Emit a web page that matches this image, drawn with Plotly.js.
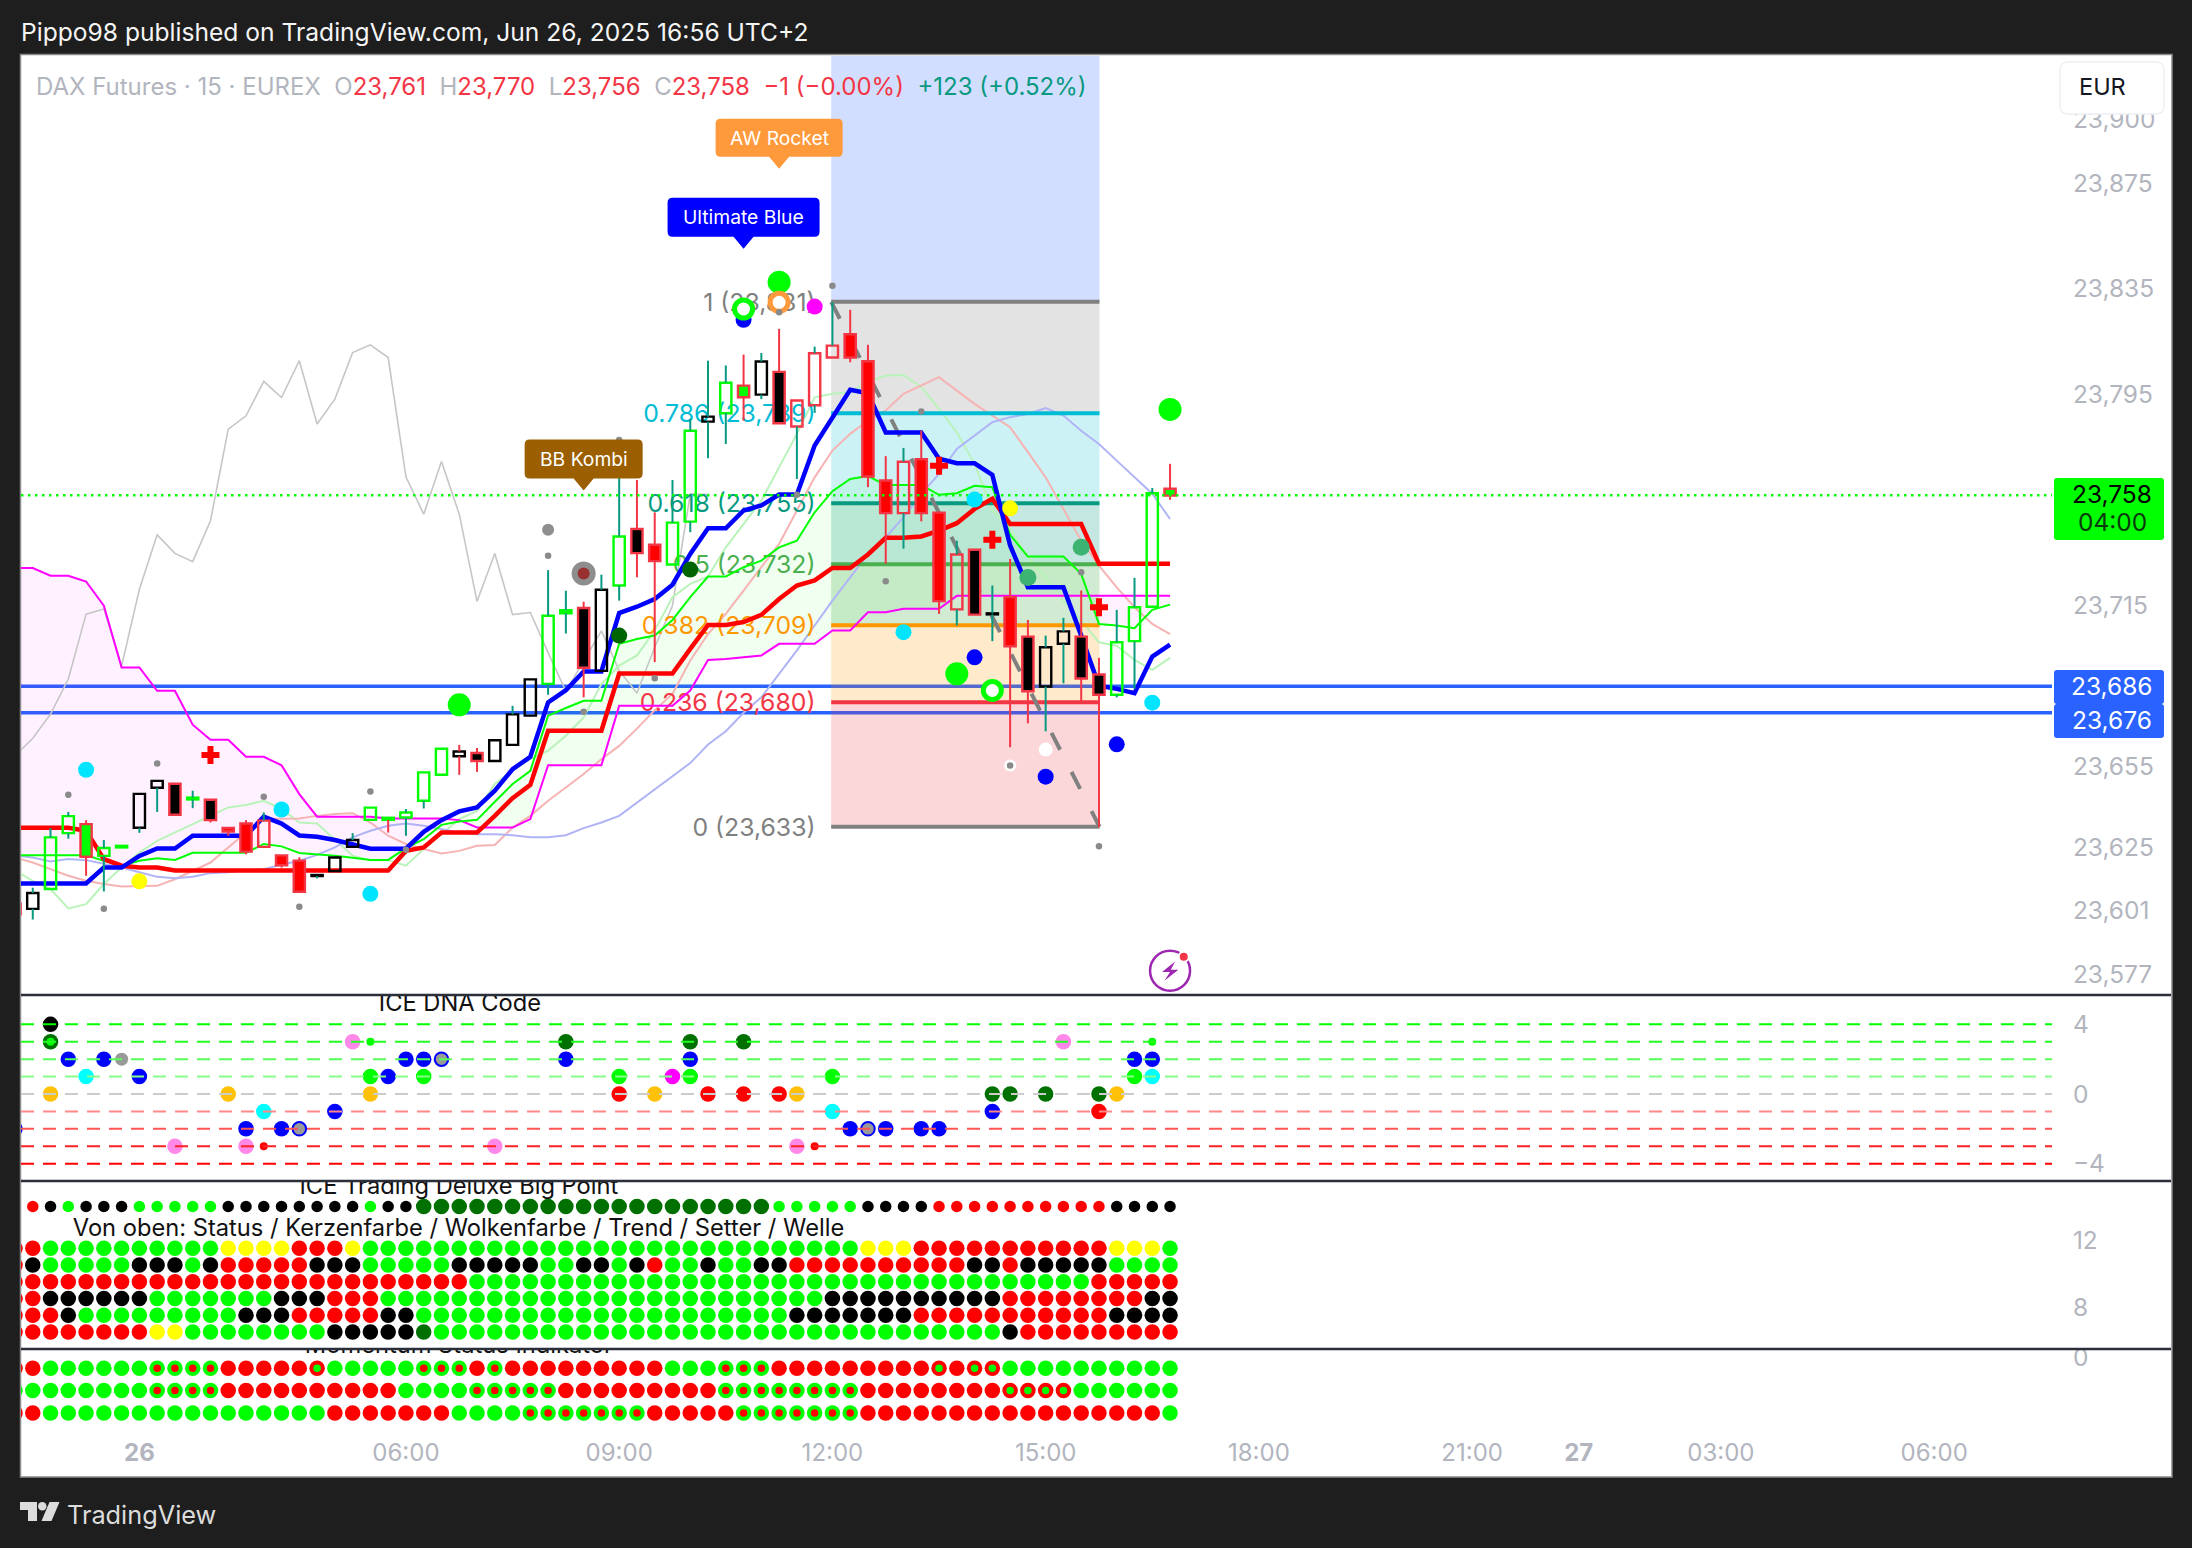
<!DOCTYPE html>
<html><head><meta charset="utf-8">
<script src="https://cdn.plot.ly/plotly-3.0.1.min.js"></script>
<style>html,body{margin:0;padding:0;background:#1e1e1e}#c{width:2192px;height:1548px}</style>
</head><body><div id="c"></div>
<script>
// ---------- candles ----------
const bodyTop=[23604,23608,23629,23637,23634,23625,23625.8,23645.4,23650.3,23649.2,
23644,23643.2,23632.5,23634.2,23635.3,23622.2,23620.2,23614.8,23621.4,23628,
23640.2,23636.4,23638.4,23653.5,23662.4,23661.4,23660.8,23665.6,23675.4,23688.6,
23712.6,23714.7,23715.5,23722.4,23742.5,23745.3,23739.4,23747.7,23782.4,23787.7,
23800.5,23799.4,23808.5,23804.6,23793.8,23811.6,23814.5,23818.8,23808.6,23763.6,
23770.7,23771.6,23751.5,23735.7,23737.5,23713.5,23719.6,23704.7,23700.7,23706.7,
23704.7,23690.4,23702.6,23715.8,23758.8,23760.5];
const bodyBot=[23600,23602,23609.5,23630.6,23621.7,23622,23625.2,23632.6,23647.7,23637.5,
23643.3,23635.5,23631.2,23623.6,23625.4,23618.5,23608.5,23614.4,23616.3,23625.4,
23635.6,23635.6,23636.5,23642.8,23652.6,23659.6,23657.8,23657.8,23663.9,23674.9,
23686.9,23713.5,23693,23691.8,23724,23736.2,23733.2,23731.9,23748.1,23785.8,
23789,23795,23796,23785.2,23784,23792,23810,23810,23765.1,23751.3,
23751.3,23751.3,23718.1,23715,23713,23713.1,23701.1,23684.1,23685.9,23702,
23688.9,23682.8,23682.8,23703,23716,23757.9];
const highs=[23606,23610,23632.5,23638.6,23635.5,23628,23625.8,23645.4,23650.3,23649.2,
23646.6,23643.2,23632.5,23635.5,23638.4,23622.2,23621.5,23614.8,23621.4,23630.6,
23640.2,23636.4,23639.7,23653.5,23662.4,23663.9,23662.7,23665.6,23678.6,23688.6,
23729.8,23722,23717.9,23728.1,23770,23763.8,23751.6,23763.8,23786.8,23808.8,
23807,23811.1,23811.7,23820.8,23793.8,23814.1,23830.8,23828,23814.8,23772.8,
23775.9,23782.4,23751.5,23740.9,23737.5,23724,23734,23711,23705.1,23711.8,
23722.1,23696.7,23714.8,23726.9,23760.8,23769.9];
const lows=[23598,23598,23609.5,23628.5,23614.5,23608.6,23625.2,23630.7,23638.6,23637.5,
23640,23634.6,23629.6,23622.6,23625.4,23617.6,23608.5,23613.5,23616.3,23625.4,
23635.6,23630.8,23629.6,23639.9,23652.6,23652.6,23653.7,23657.8,23663.9,23674.9,
23682.8,23705.9,23681.8,23691.8,23718.3,23727.1,23695.1,23731.9,23744.1,23772,
23777.4,23786.2,23794.3,23785.2,23764.2,23789.1,23810,23808.2,23761.1,23732.2,
23737.9,23748.2,23713.3,23708.9,23713,23703,23663,23672,23669,23687.1,
23679.3,23632.8,23681.8,23685,23716,23756.3];
const bodyFillCodes="rhhhghghhk"+"gkrrhrrkhh"+"hghhhhkhhh"+"hgkhhkrhhh"+"hghkhhhrrr"+"hrrhkkrkhh"+"kkhhhg";
const bodyEdgeCodes="rkggrggkkr"+"grrrrrrkkk"+"gggggkrkkk"+"ggrkgrrggk"+"grkrrrrrrr"+"rrrrrkrrkk"+"rrgggr";
const wickCodes="rtttrttttr"+"trrrtrrttt"+"trtttrrttt"+"ttrttrrttt"+"trtrtttrrr"+"trrtrtrrtt"+"rrtttr";

// ---------- indicator lines ----------
const blueThick=[23611.6,23611.6,23611.6,23611.6,23611.6,23617.6,23617.6,23622,23624.8,23624.8,
23629.6,23629.6,23629.6,23629.6,23636.8,23634.2,23629.7,23629.2,23628,23626.5,
23624.7,23624.7,23624.7,23631.1,23635.5,23638.8,23640.3,23646.6,23654.7,23659.4,
23679.9,23684.5,23691.6,23691.6,23713.6,23716,23718.9,23724.3,23735.9,23745.6,
23745.6,23752.3,23754.2,23758.3,23758.3,23776.8,23787.5,23797.8,23796.5,23781.7,
23781.7,23781.7,23771.8,23770.1,23770.1,23765.7,23739.1,23723.3,23723.3,23723.3,
23705.1,23686.2,23685,23683.4,23697.2,23701.7];
const redThick=[23632.6,23632.6,23632.6,23632.6,23631.5,23620.8,23618.3,23617.6,23617.6,23616.5,
23616.5,23616.5,23616.5,23616.5,23616.5,23616.5,23616.5,23616.5,23616.5,23616.5,
23616.5,23616.5,23623.9,23625.2,23630.8,23630.8,23630.8,23637.1,23643.8,23648.8,
23669.2,23669.2,23669.2,23669.2,23690.8,23690.8,23690.8,23690.8,23700.1,23709.1,
23709.1,23710.2,23712.9,23718.9,23724,23725.9,23730.6,23730.6,23735.7,23742,
23742,23742.5,23744.7,23747.5,23752.9,23756.7,23747.2,23747.2,23747.2,23747.2,
23747.2,23732.2,23732.2,23732.2,23732.2,23732.2];
const greenThin=[23622.2,23622.2,23622.2,23622.2,23622.2,23620.2,23618.3,23620.2,23621.1,23620.5,
23623.2,23623.2,23623.2,23623.2,23626.5,23625.6,23623.1,23622.7,23622.1,23621.3,
23620.5,23620.5,23624.9,23628.3,23633.7,23635,23635.6,23642.4,23649.1,23654.1,
23674.9,23677.8,23680.5,23680.5,23702,23703.8,23705.1,23711,23719.6,23727.4,
23727.4,23730.9,23733.4,23738.4,23740.9,23751.6,23759.6,23764.2,23765.3,23761.9,
23761.9,23761.9,23758.2,23758.8,23761.6,23761.1,23743.1,23734.9,23734.9,23734.9,
23728.4,23709.5,23708.9,23707.9,23714.8,23716.8];
const magentaLine=[23730.6,23730.6,23727.7,23727.7,23725.5,23716.4,23693.1,23693.1,23684.3,23684.3,
23671.5,23665.8,23665.8,23659.4,23659.4,23656.2,23645.3,23636.8,23636.8,23636.8,
23636.8,23636.1,23636.1,23636.1,23636.1,23635.5,23632.7,23632.7,23632.7,23635.9,
23656.2,23656.2,23656.2,23656.2,23678.6,23678.6,23678.6,23678.6,23684.4,23695.9,
23696.3,23696.9,23697.6,23702,23702,23702,23707,23707,23713.9,23713.9,
23715.2,23715.2,23715.2,23720.1,23720.1,23720.1,23720.1,23720.1,23720.1,23720.1,
23720.1,23720.1,23720.1,23720.1,23720.1,23720.1];
const greyLine=[23659.8,23666.4,23675.5,23688.7,23713.2,23715.1,23693.7,23722.6,23743.1,23736.1,
23733,23748.4,23783,23788,23801,23794.9,23808.8,23784.9,23794.3,23811.9,
23814.8,23810,23765,23750.9,23770.8,23750.9,23718,23736.1,23713,23713.8,
23698.7,23684.1,23695.6,23706.9,23691.9,23683.4,23700.7,23716.4,23758.6,23758.3];
const lightGreen=[23616.4,23612.6,23609.5,23602.2,23603.8,23611.4,23617.6,23623.3,23627.7,23630.8,
23634,23637.1,23640.3,23641.2,23642.8,23639.7,23634.6,23634.2,23628.3,23622.1,
23620.4,23620.4,23618.3,23624.6,23630.2,23635.9,23639,23649.1,23654.1,23658.5,
23661.7,23667.3,23674.2,23686.8,23693.8,23697.6,23707,23719.6,23724.6,23727.4,
23738.4,23747.2,23756,23768.6,23781.2,23795,23796.3,23796.9,23800.7,23803.2,
23803.4,23798.8,23790.6,23781.8,23769.9,23752.3,23745.3,23734.7,23727.1,23718.3,
23710.8,23702.6,23701.3,23695.9,23692.2,23696.7];
const lightRed=[23621.4,23619.5,23617,23614.5,23612.6,23611.4,23610.5,23610.5,23610.7,23613.2,
23616.4,23619.5,23625.2,23630.8,23635.9,23636.1,23636.1,23637.1,23637.8,23638.1,
23634.6,23629.6,23626.5,23624.6,23622.9,23623.9,23625.8,23626.1,23632.7,23637.1,
23642.8,23647.8,23652.9,23658.5,23663.5,23670,23677,23683.1,23695.7,23705.7,
23713.3,23722.1,23730.9,23739.7,23752.3,23764.8,23774.9,23781.2,23786.2,23790,
23796.3,23799.4,23802.6,23797.5,23792.5,23788.1,23783.7,23774.3,23764.8,23752.9,
23740.9,23731.5,23723.3,23715.8,23709.5,23705.7];
const lightBlue=[23622.1,23621.4,23619.9,23620.8,23620.4,23618.9,23617.6,23615.8,23614.1,23613.6,
23614.1,23615.5,23615.8,23616.6,23617,23618.7,23620.2,23622.4,23625.2,23629,
23631.5,23633.4,23634.2,23633.4,23632.1,23630.8,23630.2,23630.2,23629.8,23629,
23629,23629.8,23632.5,23634.6,23637.1,23642,23647,23652,23657,23664,
23669,23676,23681.8,23690.7,23699.5,23708.9,23718.3,23727.1,23735.9,23742.2,
23749.7,23758.6,23766.1,23775.5,23780.6,23785.6,23787.5,23788.7,23790.9,23788.1,
23782.4,23777.4,23771.1,23764.8,23758.6,23749.1];

// ---------- fibonacci ----------
const fibStart=45.93, fibEnd=61.03;
const fibPrices=[23831,23789,23755,23732,23709,23680,23633];
const fibTexts=["1 (23,831)","0.786 (23,789)","0.618 (23,755)","0.5 (23,732)","0.382 (23,709)","0.236 (23,680)","0 (23,633)"];
const fibColors=["#808080","#00bcd4","#089981","#4caf50","#ff9800","#f23645","#808080"];
const levelLines=[23686,23676];
const lastPrice=23758;

// ---------- main pane markers ----------
const dotBars=[30,32,32,4,15,20,54,50,64,7,56,25,43,53,65,41,62,58,45,54,34,38,60,57,58,56];
const dotPrices=[23745,23728.5,23728.5,23654.5,23639.5,23607.7,23756.4,23706.4,23679.8,23612.4,23753.1,23679,23838.4,23690.7,23790.4,23824.2,23664.1,23651.9,23829.2,23696.9,23705.1,23730,23738.4,23727,23662.1,23656.1];
const dotColors=["#8e8e8e","#8e8e8e","#993030","#00e5ff","#00e5ff","#00e5ff","#00e5ff","#00e5ff","#00e5ff","#ffff00","#ffff00","#00ff00","#00ff00","#00ff00","#00ff00","#0000ff","#0000ff","#0000ff","#ff00ff","#0000ff","#006400","#006400","#3cb371","#3cb371","#ffffff","#ffffff"];
const dotSizes=[12,24,12,16,16,16,16,16,16,16,16,23,23,23,23,16,16,16,16,16,16,16,17,17,14,12];
const ringBars=[43,41,55];
const ringPrices=[23830.8,23828.3,23684.4];
const ringColors=["#ff9a3c","#00ff00","#00ff00"];
const plusBars=[11,52,55,61];
const plusPrices=[23660.1,23769.2,23741.3,23715.8];
const smallGreyBars=[3,8,14,5,16,20,22,30,32,34,36,43,46,44,51,49,60,61,56];
const smallGreyPrices=[23645.1,23656.9,23644.3,23602.1,23602.8,23646.3,23624.3,23735.2,23676.4,23778.9,23689,23827.1,23837.1,23758.2,23789.6,23725.6,23729,23625.6,23656.1];

// ---------- lower panes ----------
const dnaLevels=[4,3,2,1,0,-1,-2,-3,-4];
const dnaLevelColors=["#00ff00","#22ff22","#55ff55","#88ff88","#cccccc","#ff8888","#ff5555","#ff2222","#ff0000"];
const dnaBars=[2,2,3,5,6,4,7,2,12,14, 18,0,13,15,16,9,13,14,19,20, 20,21,20,22,23,24,23,27,31,31, 38,38,38,37,41,34,34,36,39,41, 43,44,46,46,44,45,47,48,49,51, 52,55,56,58,55,59,61,61,62,63, 63,64,64,64];
const dnaVals=[4,3,2,2,2,1,1,0,0,-1, -1,-2,-2,-2,-2,-3,-3,-3,3,3, 1,1,0,2,2,2,1,-3,3,2, 3,2,1,1,3,1,0,0,0,0, 0,0,1,-1,-3,-3,-2,-2,-2,-2, -2,0,0,0,-1,3,0,-1,0,2, 1,2,1,3];
const dnaCodes="kdbbBcbaac"+"bbbbevvsvg"+"Gbabb"+"eGvdb"+"dbGmdGRaRR"+"RaGcvsbebb"+"bdddbvdRab"+"Gbcg";
const dnaDotColors={k:"#000000",d:"#007000",b:"#0000ff",a:"#ffc107",c:"#00ffff",v:"#ff88e8",R:"#ff0000",s:"#ff0000",G:"#00ff00",g:"#00ff00",m:"#ff00ff",B:"#999999",e:"#999999"};

const bigPoint="rrkgkkkggg"+"ggkkkkkkkk"+"gkkddddddd"+"dddddddddd"+"dddgggggkk"+"kkrrrrrrrr"+"rrkkkk";
const row1="rrgggggggg"+"ggyyyyrrry"+"gggggggggg"+"gggggggggg"+"ggggggggyy"+"yrrrrrrrrr"+"rryyyg";
const row2="rkgggggkkk"+"gkrrrrrkkk"+"gggggkkkkk"+"ggkkgkrggk"+"ggkkrrrrrr"+"rrrrkkrkkk"+"kkgggg";
const row3="rrrrrrrrrr"+"rrrrrrrrrr"+"rrrrrrgggg"+"gggggggggg"+"gggggggggg"+"gggggggggg"+"grrrrr";
const row4="rrkkkkkkgg"+"gggggkkkrr"+"rggggggggg"+"gggggggggg"+"ggggggkkkk"+"kkkkkkrrrr"+"rrrrkk";
const row5="rrrkgggggg"+"gggkkkrrrr"+"rkkggggggg"+"gggggggggg"+"ggggkkkkkk"+"krrrrrrrrr"+"rrkkkk";
const row6="rrrrrrrryy"+"ggggggggkk"+"kkkdgggggg"+"gggggggggg"+"gggggggggg"+"ggggggkrrr"+"rrrrrr";
const mom1="RRGGGGGGaa"+"aaRRRRRbGG"+"GGGaaaRaRR"+"RRRRRRRGGG"+"aaaRRRRRRR"+"RRbRbbGGGG"+"GGGGGG";
const mom2="GGGGGGGGaa"+"aaRRRRRRRR"+"RRGGGGaaaa"+"aRRRRRRRRR"+"aaaaaaaaRR"+"RRRRRRbbbb"+"GGGGGG";
const mom3="RRGGGGGGGG"+"GGGGGGGGRR"+"RRRRRGGGGa"+"aaaaaaRRRR"+"RaaaaaaaRR"+"RRRRRRRRRR"+"RRRRRG";
const deluxeRowVals=[11.5,10.5,9.5,8.5,7.5,6.5];
const bigPointVal=14;
const momRowVals=[-0.5,-1.5,-2.5];

const priceTicks=[23899.7,23875.8,23836,23796,23716.3,23655.8,23625.3,23601.3,23577.3];
const priceTickText=["23,900","23,875","23,835","23,795","23,715","23,655","23,625","23,601","23,577"];
const timeTicks=[7,22,34,46,58,70,82,88,96,108];
const timeText=["<b>26</b>","06:00","09:00","12:00","15:00","18:00","21:00","<b>27</b>","03:00","06:00"];

// ---------- geometry of the page ----------
const W=2192,H=1548;
const X=p=>p/W, Y=p=>1-p/H;
const barPx=17.77, bar0=15;
const xRange=[(21-bar0)/barPx,(2052-bar0)/barPx];
const mainRange=[23875-(994-185.2)/2.651,23875+(185.2-56)/2.651];
const dnaRange=[-4.94,5.63];
const delRange=[5.61,15.46];
const momRange=[-2.99,0.31];
const idx=a=>a.map((_,i)=>i);
const tickGrey="#b2b5be", TF="Inter, 'Noto Sans', sans-serif";

const cfill={h:"rgba(0,0,0,0)",k:"#000000",r:"#ff0000",g:"#00ff00"};
const cedge={g:"#00ff00",k:"#000000",r:"#f23645"};
const cwick={t:"#089981",r:"#f23645"};
const dotC={r:"#ff0000",g:"#00ff00",k:"#000000",y:"#ffff00",d:"#007000"};

const traces=[];
function cloud(from,to,color){
  const xs=[],ys=[];
  for(let i=from;i<=to;i++){xs.push(i);ys.push(magentaLine[i]);}
  for(let i=to;i>=from;i--){xs.push(i);ys.push(greenThin[i]);}
  traces.push({type:"scatter",mode:"lines",x:xs,y:ys,fill:"toself",fillcolor:color,line:{width:0},yaxis:"y",xaxis:"x"});
}
cloud(0,25,"rgba(255,0,255,0.055)");
cloud(25,61,"rgba(0,255,0,0.06)");
cloud(61,65,"rgba(255,0,255,0.055)");

function ln(y,color,width,x){traces.push({type:"scatter",mode:"lines",x:x||idx(y),y:y,line:{color:color,width:width},xaxis:"x",yaxis:"y"});}
ln(greyLine,"#c6c6c6",1.6);
ln(lightGreen,"#b9f3b9",2);
ln(lightRed,"#f6b3b3",2);
ln(lightBlue,"#b0b4f6",2);
// fib text, lines and diagonal
traces.push({type:"scatter",mode:"text",x:fibPrices.map(()=>45.05),y:fibPrices.map(p=>p-1),text:fibTexts,textposition:"middle left",
  textfont:{family:TF,size:24.8,color:fibColors},xaxis:"x",yaxis:"y"});
fibPrices.forEach((p,i)=>{traces.push({type:"scatter",mode:"lines",x:[fibStart,fibEnd],y:[p,p],line:{color:fibColors[i],width:4},xaxis:"x",yaxis:"y"});});
traces.push({type:"scatter",mode:"lines",x:[fibStart,fibEnd],y:[fibPrices[0],fibPrices[6]],line:{color:"#808080",width:4,dash:"19px,25px"},xaxis:"x",yaxis:"y"});
ln(magentaLine,"#ff00ff",2);
ln(greenThin,"#00ff00",2);
ln(redThick,"#ff0000",4.5);
ln(blueThick,"#0000ff",4.5);

// candles on overlay
function wicks(code){
  const xs=[],ys=[];
  for(let i=0;i<highs.length;i++){ if(wickCodes[i]!==code) continue;
    if(highs[i]>bodyTop[i]){xs.push(i,i,null);ys.push(bodyTop[i],highs[i],null);}
    if(lows[i]<bodyBot[i]){xs.push(i,i,null);ys.push(bodyBot[i],lows[i],null);}
  }
  return {type:"scatter",mode:"lines",x:xs,y:ys,line:{color:cwick[code],width:2},xaxis:"x",yaxis:"y2",connectgaps:false};
}
traces.push({type:"bar",x:idx(bodyTop),base:bodyBot,y:bodyTop.map((v,i)=>v-bodyBot[i]),width:0.63,
  marker:{color:idx(bodyTop).map(i=>cfill[bodyFillCodes[i]]),line:{color:idx(bodyTop).map(i=>cedge[bodyEdgeCodes[i]]),width:2.4}},xaxis:"x",yaxis:"y2"});
traces.push(wicks("t"),wicks("r"));

// markers on second overlay
traces.push({type:"scatter",mode:"lines",x:xRange,y:[lastPrice,lastPrice],line:{color:"#00ff00",width:2.5,dash:"2.5px,4.5px"},xaxis:"x",yaxis:"y3"});
traces.push({type:"scatter",mode:"markers",x:dotBars,y:dotPrices,marker:{opacity:1,color:dotColors,size:dotSizes,line:{width:0}},xaxis:"x",yaxis:"y3"});
traces.push({type:"scatter",mode:"markers",x:ringBars,y:ringPrices,marker:{opacity:1,color:"#ffffff",size:18,line:{color:ringColors,width:5}},xaxis:"x",yaxis:"y3"});
traces.push({type:"scatter",mode:"markers",x:plusBars,y:plusPrices,marker:{opacity:1,symbol:"cross",color:"#ff0000",size:15,line:{width:0}},xaxis:"x",yaxis:"y3"});
traces.push({type:"scatter",mode:"markers",x:smallGreyBars,y:smallGreyPrices,marker:{opacity:1,color:"#8a8a8a",size:6.5,line:{width:0}},xaxis:"x",yaxis:"y3"});

// DNA pane
const dnaCodeList=dnaCodes.split("");
traces.push({type:"scatter",mode:"markers",x:dnaBars,y:dnaVals,marker:{opacity:1,color:dnaCodeList.map(c=>dnaDotColors[c]),
  size:dnaCodeList.map(c=>c==="s"||c==="g"?8:c==="B"?13:c==="e"?13.5:15.5),
  line:{color:dnaCodeList.map(c=>c==="e"?"#0000ff":"rgba(0,0,0,0)"),width:dnaCodeList.map(c=>c==="e"?2:0)}},xaxis:"x",yaxis:"y4"});
traces.push({type:"scatter",mode:"markers",x:[2],y:[3],marker:{opacity:1,color:"#00ff00",size:8},xaxis:"x",yaxis:"y4"});
dnaLevels.forEach((l,i)=>traces.push({type:"scatter",mode:"lines",x:xRange,y:[l,l],line:{color:dnaLevelColors[i],width:2,dash:"13px,9px"},xaxis:"x",yaxis:"y4"}));

// deluxe pane
function dots(str,val,axis,map,size){
  const cs=str.split("");
  traces.push({type:"scatter",mode:"markers",x:idx(cs),y:cs.map(()=>val),
    marker:{opacity:1,color:cs.map(c=>map[c]),size:typeof size==="function"?cs.map(size):size,line:{width:0}},xaxis:"x",yaxis:axis});
}
dots(bigPoint,bigPointVal,"y5",dotC,c=>c==="d"?15.5:11.5);
[row1,row2,row3,row4,row5,row6].forEach((r,i)=>dots(r,deluxeRowVals[i],"y5",dotC,15.5));

// momentum pane
const outerC={R:"#ff0000",G:"#00ff00",a:"#00ff00",b:"#ff0000"};
const innerC={R:"#ff0000",G:"#00ff00",a:"#ff0000",b:"#00ff00"};
[mom1,mom2,mom3].forEach((r,i)=>{
  dots(r,momRowVals[i],"y6",outerC,15.5);
  dots(r,momRowVals[i],"y6",innerC,c=>(c==="a"||c==="b")?7.5:0.1);
});

// pane titles clipped by their panes
function paneText(t,x,y,axis,pos){traces.push({type:"scatter",mode:"text",x:[x],y:[y],text:[t],textposition:pos||"middle center",cliponaxis:true,
  textfont:{family:TF,size:23.7,color:"#111111"},xaxis:"x",yaxis:axis});}
paneText("ICE DNA Code",25.04,5.11,"y4");
paneText("ICE Trading Deluxe Big Point",24.98,15.1,"y5");
paneText("Von oben: Status / Kerzenfarbe / Wolkenfarbe / Trend / Setter / Welle",24.96,12.6,"y5");
paneText("Momentum Status Indikator",24.98,-0.1,"y6","top center");

// ---------- shapes ----------
const shapes=[];
shapes.push({type:"rect",xref:"paper",yref:"paper",x0:X(20.5),x1:X(2172),y0:Y(54.5),y1:Y(1477),fillcolor:"#ffffff",line:{color:"#8a8a8a",width:1.5},layer:"below"});
levelLines.forEach(p=>shapes.push({type:"line",xref:"x",yref:"y",x0:xRange[0],x1:xRange[1],y0:p,y1:p,line:{color:"#2962ff",width:3.5},layer:"below"}));
shapes.push({type:"rect",xref:"x",yref:"y",x0:fibStart,x1:fibEnd,y0:fibPrices[0],y1:mainRange[1],fillcolor:"rgba(41,98,255,0.21)",line:{width:0},layer:"below"});
const fibAlpha=["rgba(128,128,128,0.22)","rgba(0,188,212,0.2)","rgba(8,153,129,0.24)","rgba(76,175,80,0.26)","rgba(255,152,0,0.2)","rgba(242,54,69,0.2)"];
for(let i=0;i<6;i++) shapes.push({type:"rect",xref:"x",yref:"y",x0:fibStart,x1:fibEnd,y0:fibPrices[i],y1:fibPrices[i+1],fillcolor:fibAlpha[i],line:{width:0},layer:"below"});
[995,1181,1349].forEach(p=>shapes.push({type:"line",xref:"paper",yref:"paper",x0:X(21),x1:X(2171),y0:Y(p),y1:Y(p),line:{color:"#2a2e39",width:2.5},layer:"above"}));

function rr(x0,y0,x1,y1,r){ // rounded rect in page pixels -> paper path
  const a=(x,y)=>X(x)+","+Y(y);
  return "M"+a(x0+r,y0)+" L"+a(x1-r,y0)+" Q"+a(x1,y0)+" "+a(x1,y0+r)+" L"+a(x1,y1-r)+" Q"+a(x1,y1)+" "+a(x1-r,y1)+" L"+a(x0+r,y1)+" Q"+a(x0,y1)+" "+a(x0,y1-r)+" L"+a(x0,y0+r)+" Q"+a(x0,y0)+" "+a(x0+r,y0)+" Z";
}
function box(x0,y0,x1,y1,r,fill,line){shapes.push({type:"path",xref:"paper",yref:"paper",path:rr(x0,y0,x1,y1,r),fillcolor:fill,line:line||{width:0},layer:"above"});}
box(2060,62,2164,114,8,"#ffffff",{color:"#eef0f3",width:1.5});
box(2054,478,2164,540,3,"#00ff00");
box(2054,670,2164,704,3,"#2962ff");
box(2054,704,2164,738,3,"#2962ff");

// tag with pointer anchored on a bar; offsets are pixels above the tip
const tags=[
 {bar:43,tip:23881.2,w:127,h:38,gap:12,color:"#ff9a3c",text:"AW Rocket"},
 {bar:41,tip:23851,w:152,h:39,gap:12,color:"#0000ff",text:"Ultimate Blue"},
 {bar:32,tip:23759.8,w:118,h:39,gap:12,color:"#9c5f00",text:"BB Kombi"}];
const anns=[];
tags.forEach(t=>{
  const r=5,hw=t.w/2,b=t.gap,u=t.gap+t.h;
  const path=`M0,0 L-10,${b} L${-hw+r},${b} Q${-hw},${b} ${-hw},${b+r} L${-hw},${u-r} Q${-hw},${u} ${-hw+r},${u} L${hw-r},${u} Q${hw},${u} ${hw},${u-r} L${hw},${b+r} Q${hw},${b} ${hw-r},${b} L10,${b} Z`;
  shapes.push({type:"path",xref:"x",yref:"y",xsizemode:"pixel",ysizemode:"pixel",xanchor:t.bar,yanchor:t.tip,path:path,fillcolor:t.color,line:{width:0},layer:"above"});
  anns.push({xref:"x",yref:"y",x:t.bar,y:t.tip,yshift:t.gap+t.h/2,showarrow:false,text:t.text,font:{family:TF,size:19.3,color:"#ffffff"},xanchor:"center",yanchor:"middle"});
});

// alert icon
const iconBar=65, iconPrice=23578.7;
shapes.push({type:"circle",xref:"x",yref:"y",xsizemode:"pixel",ysizemode:"pixel",xanchor:iconBar,yanchor:iconPrice,x0:-20,x1:20,y0:-20,y1:20,line:{color:"#9c27b0",width:2.5},fillcolor:"rgba(0,0,0,0)",layer:"above"});
shapes.push({type:"path",xref:"x",yref:"y",xsizemode:"pixel",ysizemode:"pixel",xanchor:iconBar,yanchor:iconPrice,path:"M5,9.3 L-8,-1.3 L0,-1.3 L-5.7,-10 L8.3,1 L0.7,1 Z",fillcolor:"#9c27b0",line:{width:0},layer:"above"});
shapes.push({type:"circle",xref:"x",yref:"y",xsizemode:"pixel",ysizemode:"pixel",xanchor:iconBar,yanchor:iconPrice,x0:8.7,x1:18.7,y0:9,y1:19,fillcolor:"#f23645",line:{color:"#ffffff",width:2},layer:"above"});

// logo
const pxp=(pts)=>"M"+pts.map(p=>X(p[0])+","+Y(p[1])).join(" L")+" Z";
shapes.push({type:"path",xref:"paper",yref:"paper",path:pxp([[20,1502],[37,1502],[37,1521],[28,1521],[28,1510],[20,1510]]),fillcolor:"#dcdcdc",line:{width:0}});
shapes.push({type:"circle",xref:"paper",yref:"paper",x0:X(38),x1:X(46.5),y0:Y(1510.5),y1:Y(1502),fillcolor:"#dcdcdc",line:{width:0}});
shapes.push({type:"path",xref:"paper",yref:"paper",path:pxp([[49.5,1502],[59.5,1502],[51.5,1521],[41.5,1521]]),fillcolor:"#dcdcdc",line:{width:0}});

function txt(px,py,text,size,color,anchor){anns.push({xref:"paper",yref:"paper",x:X(px),y:Y(py),text:text,showarrow:false,xanchor:anchor||"left",yanchor:"middle",align:anchor||"left",font:{family:TF,size:size,color:color}});}
txt(19,32,"Pippo98 published on TradingView.com, Jun 26, 2025 16:56 UTC+2",24.6,"#f5f5f5");
const G='<span style="color:#b2b5be">',R='<span style="color:#f23645">',T='<span style="color:#089981">',E='</span>';
txt(34,86,G+"DAX Futures · 15 · EUREX"+E+"  "+G+"O"+E+R+"23,761"+E+"  "+G+"H"+E+R+"23,770"+E+"  "+G+"L"+E+R+"23,756"+E+"  "+G+"C"+E+R+"23,758"+E+"  "+R+"−1 (−0.00%)"+E+"  "+T+"+123 (+0.52%)"+E,24,"#b2b5be");
txt(2102,87,"EUR",23.5,"#131722","center");
txt(2112,494,"23,758",24.5,"#000000","center");
txt(2112,522,"04:00",24.5,"#0b3a0b","center");
txt(2112,686,"23,686",24.5,"#ffffff","center");
txt(2112,720,"23,676",24.5,"#ffffff","center");
txt(65,1514,"TradingView",25.3,"#dcdcdc");

const axBase={showgrid:false,zeroline:false,showline:false,fixedrange:true};
const yTick=(vals,text)=>({tickmode:"array",tickvals:vals,ticktext:text,ticks:"outside",ticklen:15,tickcolor:"rgba(0,0,0,0)",tickfont:{family:TF,size:24.5,color:tickGrey}});
const layout={
  width:W,height:H,margin:{l:0,r:0,t:0,b:0},paper_bgcolor:"#1e1e1e",plot_bgcolor:"rgba(0,0,0,0)",showlegend:false,hovermode:false,
  font:{family:TF},barmode:"overlay",
  xaxis:{...axBase,domain:[X(21),X(2052)],range:xRange,anchor:"y6",tickmode:"array",tickvals:timeTicks,ticktext:timeText,ticks:"outside",ticklen:7,tickcolor:"rgba(0,0,0,0)",tickfont:{family:TF,size:24,color:tickGrey}},
  yaxis:{...axBase,...yTick(priceTicks,priceTickText),side:"right",anchor:"x",domain:[Y(994),Y(56)],range:mainRange},
  yaxis2:{...axBase,overlaying:"y",side:"right",anchor:"x",range:mainRange,showticklabels:false,ticks:""},
  yaxis3:{...axBase,overlaying:"y",side:"right",anchor:"x",range:mainRange,showticklabels:false,ticks:""},
  yaxis4:{...axBase,...yTick([4,0,-4],["4","0","−4"]),side:"right",anchor:"x",domain:[Y(1180),Y(996)],range:dnaRange},
  yaxis5:{...axBase,...yTick([12,8],["12","8"]),side:"right",anchor:"x",domain:[Y(1347),Y(1182)],range:delRange},
  yaxis6:{...axBase,...yTick([0],["0"]),side:"right",anchor:"x",domain:[Y(1424),Y(1350)],range:momRange},
  shapes:shapes,annotations:anns
};
Plotly.newPlot("c",traces,layout,{displayModeBar:false,staticPlot:true});
</script></body></html>
